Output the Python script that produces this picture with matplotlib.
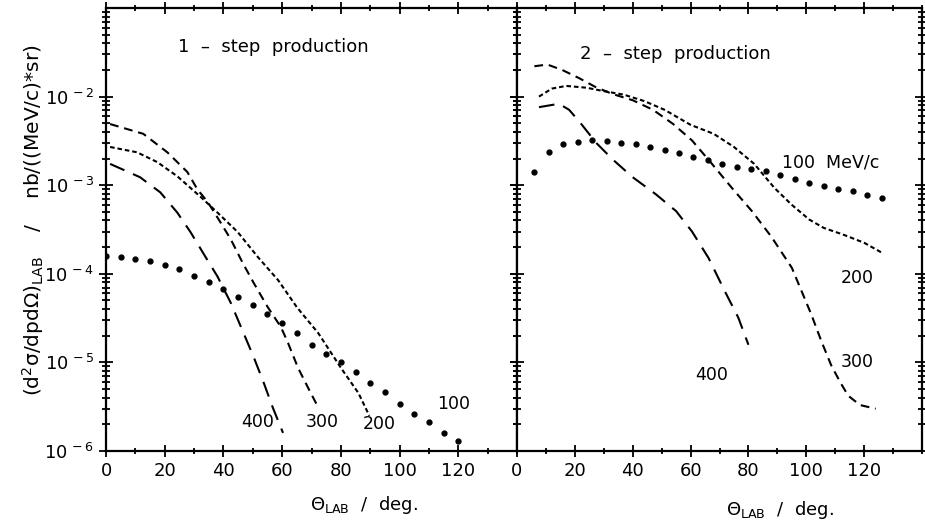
import numpy as np
import matplotlib
matplotlib.use('Agg')
import matplotlib.pyplot as plt
from matplotlib.ticker import LogLocator, NullFormatter, MultipleLocator

plt.rcParams['font.family'] = ['DejaVu Sans']
plt.rcParams['mathtext.fontset'] = 'dejavusans'

# ------------------------
# data
# ------------------------

# 1-step production
th1_100 = [0, 5, 10, 15, 20, 25, 30, 35, 40, 45, 50, 55, 60, 65, 70, 75, 80,
           85, 90, 95, 100, 105, 110, 115, 120]
xs1_100 = [1.58e-4, 1.55e-4, 1.48e-4, 1.38e-4, 1.26e-4, 1.12e-4, 9.5e-5, 8.1e-5,
           6.8e-5, 5.5e-5, 4.5e-5, 3.5e-5, 2.75e-5, 2.14e-5, 1.58e-5, 1.26e-5,
           1.0e-5, 7.8e-6, 5.8e-6, 4.6e-6, 3.4e-6, 2.6e-6, 2.1e-6, 1.58e-6, 1.29e-6]

th1_200 = [1.4, 10.6, 17.5, 24.3, 32.2, 38, 44.9, 51.7, 58.6, 65, 72.3, 80, 86, 89.7]
xs1_200 = [2.7e-3, 2.35e-3, 1.82e-3, 1.26e-3, 7.4e-4, 4.9e-4, 2.95e-4, 1.55e-4,
           8.5e-5, 4.2e-5, 2.14e-5, 8.7e-6, 4.5e-6, 2.5e-6]

th1_300 = [1.4, 12.7, 20.9, 27.7, 31.2, 34.6, 38.4, 42.5, 46.6, 50.3, 55.1, 59.6,
           62, 65.4, 68.8, 72.3]
xs1_300 = [4.9e-3, 3.8e-3, 2.35e-3, 1.41e-3, 8.9e-4, 6.5e-4, 4.1e-4, 2.45e-4,
           1.32e-4, 7.9e-5, 4.2e-5, 2.5e-5, 1.66e-5, 8.7e-6, 5.2e-6, 3.1e-6]

th1_400 = [1.4, 11.6, 18.5, 24.3, 28.8, 33.9, 38, 42.5, 46, 50.3, 53.8, 56.8, 60.3]
xs1_400 = [1.74e-3, 1.23e-3, 8.3e-4, 4.9e-4, 2.95e-4, 1.55e-4, 9.3e-5, 4.7e-5,
           2.5e-5, 1.15e-5, 5.8e-6, 3.1e-6, 1.6e-6]

# 2-step production
th2_100 = [6, 11, 16, 21, 26, 31, 36, 41, 46, 51, 56, 61, 66, 71, 76, 81, 86,
           91, 96, 101, 106, 111, 116, 121, 126]
xs2_100 = [1.41e-3, 2.34e-3, 2.88e-3, 3.09e-3, 3.24e-3, 3.16e-3, 3.02e-3, 2.95e-3,
           2.69e-3, 2.51e-3, 2.29e-3, 2.09e-3, 1.91e-3, 1.74e-3, 1.62e-3, 1.51e-3,
           1.45e-3, 1.29e-3, 1.17e-3, 1.07e-3, 9.8e-4, 9.1e-4, 8.5e-4, 7.8e-4, 7.1e-4]

th2_200 = [7.6, 12, 17, 24, 29, 37, 44, 51, 60, 68, 75, 82, 89, 95, 101, 106,
           113, 120, 126]
xs2_200 = [1.0e-2, 1.23e-2, 1.32e-2, 1.26e-2, 1.17e-2, 1.05e-2, 8.9e-3, 7.1e-3,
           4.8e-3, 3.8e-3, 2.7e-3, 1.74e-3, 9.3e-4, 6.0e-4, 4.1e-4, 3.3e-4,
           2.75e-4, 2.24e-4, 1.74e-4]

th2_300 = [6, 10.5, 15.6, 21.4, 27, 33, 40, 47, 54, 60.5, 67.4, 74.3, 81.2, 88,
           95, 101.7, 105.2, 108.6, 111.7, 114.5, 118.6, 124]
xs2_300 = [2.2e-2, 2.3e-2, 2.0e-2, 1.62e-2, 1.29e-2, 1.07e-2, 9.1e-3, 7.1e-3,
           4.9e-3, 3.2e-3, 1.74e-3, 9.3e-4, 5.1e-4, 2.6e-4, 1.17e-4, 3.5e-5,
           1.74e-5, 9.3e-6, 6.0e-6, 4.2e-6, 3.3e-6, 3.0e-6]

th2_400 = [7.6, 14.5, 18, 21.6, 27.4, 33.1, 40, 48, 55, 60.5, 66.2, 71.9, 76.5, 80]
xs2_400 = [7.6e-3, 8.3e-3, 7.1e-3, 5.2e-3, 3.0e-3, 1.95e-3, 1.23e-3, 7.9e-4,
           5.1e-4, 3.0e-4, 1.51e-4, 6.3e-5, 3.2e-5, 1.58e-5]

ytick_vals = [1e-6, 1e-5, 1e-4, 1e-3, 1e-2]
ytick_labels = [r'$10^{\,-6}$', r'$10^{\,-5}$', r'$10^{\,-4}$', r'$10^{\,-3}$', r'$10^{\,-2}$']

# ------------------------

W, H = 925, 527
fig = plt.figure(figsize=(W / 100, H / 100), dpi=100)

ax1 = fig.add_axes([106 / W, 1 - 451 / H, (517 - 106) / W, (451 - 8) / H])
ax2 = fig.add_axes([517 / W, 1 - 451 / H, (922 - 517) / W, (451 - 8) / H])

lw = 1.5
sty_long = (0, (7.5, 4.5))
sty_med = (0, (4.2, 2.8))
sty_short = (0, (2.2, 1.4))

ax1.plot(th1_100, xs1_100, 'o', color='black', ms=3.5, ls='none')
ax1.plot(th1_200, xs1_200, color='black', lw=lw, ls=sty_short)
ax1.plot(th1_300, xs1_300, color='black', lw=lw, ls=sty_med)
ax1.plot(th1_400, xs1_400, color='black', lw=lw, ls=sty_long)

ax2.plot(th2_100, xs2_100, 'o', color='black', ms=3.5, ls='none')
ax2.plot(th2_200, xs2_200, color='black', lw=lw, ls=sty_short)
ax2.plot(th2_300, xs2_300, color='black', lw=lw, ls=sty_med)
ax2.plot(th2_400, xs2_400, color='black', lw=lw, ls=sty_long)

for ax in (ax1, ax2):
    ax.set_yscale('log')
    ax.set_xlim(0, 140)
    ax.set_ylim(1e-6, 1e-1)
    ax.set_xticks([0, 20, 40, 60, 80, 100, 120])
    ax.xaxis.set_minor_locator(MultipleLocator(10))
    ax.yaxis.set_minor_locator(LogLocator(base=10, subs=np.arange(2, 10)))
    ax.yaxis.set_minor_formatter(NullFormatter())
    ax.tick_params(axis='both', which='both', direction='inout', top=True, right=True,
                   width=1.3, labelsize=13)
    ax.tick_params(axis='x', which='major', length=9)
    ax.tick_params(axis='x', which='minor', length=5)
    ax.tick_params(axis='y', which='major', length=10)
    ax.tick_params(axis='y', which='minor', length=6)
    for s in ax.spines.values():
        s.set_linewidth(1.6)

ax1.set_yticks(ytick_vals)
ax1.set_yticklabels(ytick_labels)
ax2.set_yticks(ytick_vals)
ax2.set_yticklabels([])

# curve labels
ax1.text(0.175, 0.9, '1  –  step  production', transform=ax1.transAxes, fontsize=13)
ax1.text(0.33, 0.055, '400', transform=ax1.transAxes, fontsize=12.5)
ax1.text(0.485, 0.055, '300', transform=ax1.transAxes, fontsize=12.5)
ax1.text(0.625, 0.05, '200', transform=ax1.transAxes, fontsize=12.5)
ax1.text(0.805, 0.095, '100', transform=ax1.transAxes, fontsize=12.5)

ax2.text(0.155, 0.885, '2  –  step  production', transform=ax2.transAxes, fontsize=13)
ax2.text(0.655, 0.64, '100  MeV/c', transform=ax2.transAxes, fontsize=12.5)
ax2.text(0.8, 0.38, '200', transform=ax2.transAxes, fontsize=12.5)
ax2.text(0.8, 0.19, '300', transform=ax2.transAxes, fontsize=12.5)
ax2.text(0.44, 0.16, '400', transform=ax2.transAxes, fontsize=12.5)

# axis titles
fig.text(364 / W, 1 - 505 / H, 'Θ$_{\\mathrm{LAB}}$  /  deg.', ha='center', va='center',
         fontsize=13)
fig.text(780 / W, 1 - 510 / H, 'Θ$_{\\mathrm{LAB}}$  /  deg.', ha='center', va='center',
         fontsize=13)
fig.text(33 / W, 1 - 220 / H,
         '(d$^{\\mathrm{2}}$σ/dpdΩ)$_{\\mathrm{LAB}}$    /    nb/((MeV/c)*sr)',
         rotation=90, ha='center', va='center', fontsize=14.5)

fig.savefig('out.png', dpi=100)
